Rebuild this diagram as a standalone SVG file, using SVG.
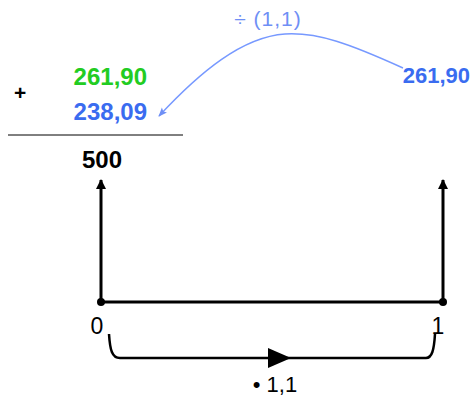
<svg xmlns="http://www.w3.org/2000/svg" width="472" height="396" viewBox="0 0 472 396">
<defs>
<style>
.t{font-family:"Liberation Sans",Arial,sans-serif}
.b{font-weight:bold}
.ax{stroke:#000;stroke-width:3;fill:none}
</style>
<marker id="ah" viewBox="0 0 10 10" refX="9" refY="5" markerWidth="10" markerHeight="10" markerUnits="userSpaceOnUse" orient="auto">
<path d="M0,0 L10,5 L0,10 Z" fill="#000"/>
</marker>
<marker id="bh" viewBox="0 0 10 10" refX="9" refY="5" markerWidth="9" markerHeight="9" markerUnits="userSpaceOnUse" orient="auto">
<path d="M0,1 L10,5 L0,9 L2,5 Z" fill="#6f8ff5"/>
</marker>
</defs>
<rect width="472" height="396" fill="#fff"/>
<g id="sum">
<text class="t b" x="14" y="100" font-size="21">+</text>
<text class="t b" x="147" y="85" font-size="24" fill="#22cc22" text-anchor="end">261,90</text>
<text class="t b" x="147" y="120" font-size="24" fill="#3a6cf0" text-anchor="end">238,09</text>
<line x1="8" y1="135" x2="183" y2="135" stroke="#000" stroke-width="1"/>
<text class="t b" x="102" y="168" font-size="24" fill="#000" text-anchor="middle">500</text>
</g>
<g id="source">
<text class="t b" x="470" y="83" font-size="22" fill="#3a6cf0" text-anchor="end">261,90</text>
</g>
<g id="div-label">
<text class="t" x="268" y="26" font-size="21" letter-spacing="1" fill="#6f8ff5" text-anchor="middle">÷ (1,1)</text>
</g>
<g id="axis">
<line class="ax" x1="101" y1="302" x2="443" y2="302"/>
<circle cx="101" cy="302" r="4" fill="#000"/>
<circle cx="443" cy="302" r="4" fill="#000"/>
<text class="t" x="97" y="334" font-size="23" text-anchor="middle">0</text>
<text class="t" x="438" y="334" font-size="23" text-anchor="middle">1</text>
</g>
<g id="mult-label">
<text class="t" x="275" y="392" font-size="22" text-anchor="middle">• 1,1</text>
</g>
<g id="connectors">
<line class="ax" x1="101" y1="302" x2="101" y2="180" marker-end="url(#ah)"/>
<line class="ax" x1="443" y1="302" x2="443" y2="180" marker-end="url(#ah)"/>
<path d="M403,68 C350,44 318,32 285,34 C242,37 200,72 159,116" fill="none" stroke="#7799ff" stroke-width="1.5" marker-end="url(#bh)"/>
<path d="M109,334 C110,350 112,358 120,358 L426,358 C432,358 434,350 435,334" fill="none" stroke="#000" stroke-width="2.5"/>
<path d="M268,348 L291,358 L268,368 Z" fill="#000"/>
</g>
</svg>
